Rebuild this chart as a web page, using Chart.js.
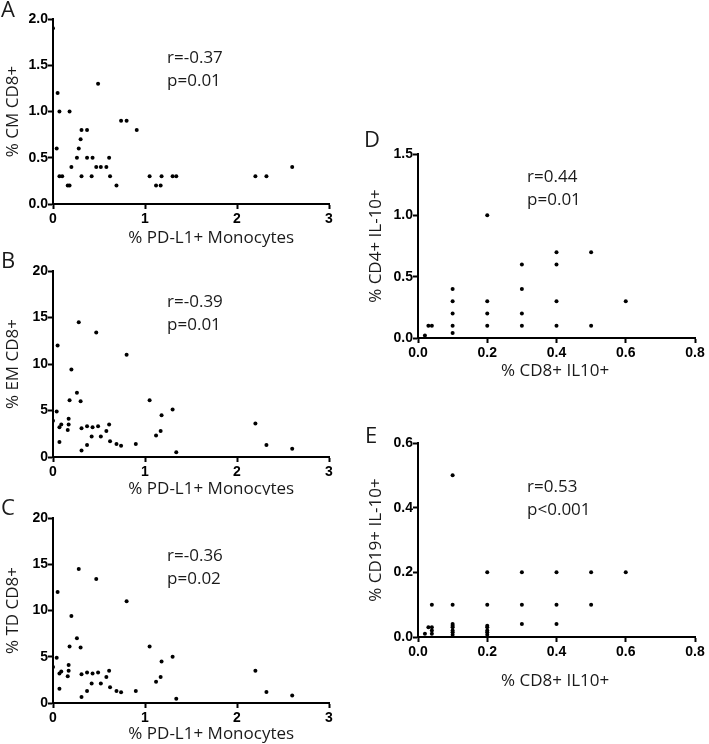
<!DOCTYPE html>
<html>
<head>
<meta charset="utf-8">
<script src="https://cdn.jsdelivr.net/npm/chart.js@4/dist/chart.umd.min.js"></script>
<style>
  body { margin: 0; background: #fff; }
  #wrap { position: relative; width: 709px; height: 744px; }
  canvas { position: absolute; }
</style>
</head>
<body>
<div id="wrap">
  <canvas id="cA" width="345" height="250" style="left:0;top:0"></canvas>
  <canvas id="cB" width="345" height="245" style="left:0;top:250px"></canvas>
  <canvas id="cC" width="345" height="249" style="left:0;top:495px"></canvas>
  <canvas id="cD" width="349" height="255" style="left:360px;top:130px"></canvas>
  <canvas id="cE" width="349" height="275" style="left:360px;top:420px"></canvas>
</div>
<script>
// % PD-L1+ monocytes vs CD8 subsets
const cmX = [0, 0.04, 0.05, 0.07, 0.07, 0.1, 0.16, 0.18, 0.18, 0.2, 0.26, 0.28, 0.3, 0.31, 0.31, 0.37, 0.37, 0.42, 0.43, 0.47, 0.49, 0.52, 0.58, 0.61, 0.62, 0.69, 0.74, 0.8, 0.91, 1.05, 1.12, 1.17, 1.18, 1.3, 1.34, 2.2, 2.32, 2.6];
const cmY = [1.9, 0.6, 1.2, 1.0, 0.3, 0.3, 0.2, 0.2, 1.0, 0.4, 0.5, 0.6, 0.7, 0.8, 0.3, 0.8, 0.5, 0.3, 0.5, 0.4, 1.3, 0.4, 0.4, 0.5, 0.3, 0.2, 0.9, 0.9, 0.8, 0.3, 0.2, 0.2, 0.3, 0.3, 0.3, 0.3, 0.3, 0.4];

const emX = [0, 0.04, 0.05, 0.07, 0.09, 0.07, 0.16, 0.17, 0.17, 0.18, 0.2, 0.26, 0.28, 0.3, 0.31, 0.31, 0.37, 0.37, 0.42, 0.43, 0.47, 0.49, 0.52, 0.58, 0.61, 0.62, 0.69, 0.74, 0.8, 0.9, 1.05, 1.12, 1.17, 1.18, 1.3, 1.34, 2.2, 2.32, 2.6];
const emY = [3.9, 4.9, 12.0, 3.2, 3.5, 1.6, 2.9, 3.5, 4.1, 6.1, 9.4, 6.9, 14.5, 6.0, 3.1, 0.7, 3.3, 1.3, 2.2, 3.2, 13.4, 3.3, 2.2, 2.8, 3.5, 1.7, 1.4, 1.2, 11.0, 1.4, 6.1, 2.3, 2.8, 4.5, 5.1, 0.5, 3.6, 1.3, 0.9];

const tdX = [0, 0.04, 0.05, 0.07, 0.09, 0.07, 0.16, 0.17, 0.17, 0.18, 0.2, 0.26, 0.28, 0.3, 0.31, 0.31, 0.37, 0.37, 0.42, 0.43, 0.47, 0.49, 0.52, 0.58, 0.61, 0.62, 0.69, 0.74, 0.8, 0.9, 1.05, 1.12, 1.17, 1.18, 1.3, 1.34, 2.2, 2.32, 2.6];
const tdY = [3.9, 4.9, 12.0, 3.2, 3.4, 1.55, 2.9, 3.5, 4.1, 6.1, 9.4, 7.0, 14.5, 6.0, 3.1, 0.65, 3.3, 1.3, 2.1, 3.2, 13.4, 3.3, 2.1, 2.8, 3.5, 1.7, 1.3, 1.15, 11.0, 1.3, 6.1, 2.3, 2.8, 4.5, 5.0, 0.45, 3.5, 1.2, 0.8];

// % CD8+ IL10+ vs CD4 / CD19
const cd4X = [0.02, 0.03, 0.04, 0.1, 0.1, 0.1, 0.1, 0.1, 0.2, 0.2, 0.2, 0.2, 0.3, 0.3, 0.3, 0.3, 0.4, 0.4, 0.4, 0.4, 0.5, 0.5, 0.6];
const cd4Y = [0.02, 0.1, 0.1, 0.04, 0.1, 0.2, 0.3, 0.4, 0.1, 0.2, 0.3, 1.0, 0.1, 0.2, 0.4, 0.6, 0.1, 0.3, 0.6, 0.7, 0.1, 0.7, 0.3];

const cd19X = [0.02, 0.03, 0.04, 0.04, 0.04, 0.04, 0.1, 0.1, 0.1, 0.1, 0.1, 0.1, 0.1, 0.1, 0.2, 0.2, 0.2, 0.2, 0.2, 0.2, 0.2, 0.3, 0.3, 0.3, 0.4, 0.4, 0.4, 0.5, 0.5, 0.6];
const cd19Y = [0.01, 0.03, 0.03, 0.02, 0.01, 0.1, 0.04, 0.035, 0.03, 0.02, 0.015, 0.007, 0.1, 0.5, 0.035, 0.03, 0.02, 0.015, 0.007, 0.1, 0.2, 0.04, 0.1, 0.2, 0.04, 0.1, 0.2, 0.1, 0.2, 0.2];

const TXT = '#1a1a1a';
const SANS = '"Open Sans", sans-serif';
const tickFont = { family: '"Liberation Sans", Arial, sans-serif', weight: 'bold', size: 14 };

function panelText(p) {
  return {
    id: 'panelText',
    afterDraw(chart) {
      const { ctx, chartArea } = chart;
      const x = chart.scales.x, y = chart.scales.y;
      ctx.save();
      ctx.fillStyle = TXT;
      ctx.textBaseline = 'middle';
      ctx.textAlign = 'left';
      ctx.font = '22px ' + SANS;
      ctx.fillText(p.letter, p.letterPos[0], p.letterPos[1]);
      ctx.font = '17px ' + SANS;
      const sx = x.getPixelForValue(p.statAt[0]);
      const sy = y.getPixelForValue(p.statAt[1]);
      p.stats.forEach((t, i) => ctx.fillText(t, sx, sy + i * 23));
      ctx.textAlign = 'center';
      ctx.fillText(p.xTitle, x.getPixelForValue(p.xTitleAt), chartArea.bottom + p.xTitleGap);
      ctx.restore();
    }
  };
}

function makePanel(id, xs, ys, p) {
  const points = xs.map((v, i) => ({ x: v, y: ys[i] }));
  const axisGrid = { display: true, drawOnChartArea: false, drawTicks: true, tickLength: 5, tickWidth: 2, tickColor: '#000', color: '#000' };
  new Chart(document.getElementById(id), {
    type: 'scatter',
    data: {
      datasets: [{
        data: points,
        backgroundColor: '#000',
        borderColor: '#000',
        pointRadius: 2,
        pointBorderWidth: 0
      }]
    },
    options: {
      responsive: false,
      animation: false,
      devicePixelRatio: 1,
      layout: { padding: { top: p.padTop, right: p.padRight, left: 0, bottom: 0 } },
      plugins: { legend: { display: false }, tooltip: { enabled: false } },
      scales: {
        x: {
          type: 'linear', min: 0, max: p.xMax,
          ticks: { stepSize: p.xStep, color: '#000', font: tickFont, padding: 2, maxRotation: 0,
                   callback: v => v.toFixed(p.xDec) },
          grid: axisGrid,
          border: { display: true, color: '#000', width: 2 },
          afterFit: s => { s.height = p.xHeight; }
        },
        y: {
          type: 'linear', min: 0, max: p.yMax,
          ticks: { stepSize: p.yStep, color: '#000', font: tickFont, padding: 0,
                   callback: v => v.toFixed(p.yDec) },
          grid: axisGrid,
          border: { display: true, color: '#000', width: 2 },
          title: { display: true, text: p.yTitle, color: TXT, font: { family: SANS, size: 17 }, padding: { top: p.yTitlePad, bottom: 0 } },
          afterFit: s => { s.width = p.yWidth; }
        }
      }
    },
    plugins: [panelText(p)]
  });
}

makePanel('cA', cmX, cmY, {
  letter: 'A', letterPos: [1, 11], stats: ['r=-0.37', 'p=0.01'], statAt: [1.24, 1.58],
  xTitle: '% PD-L1+ Monocytes', xTitleAt: 1.72, xTitleGap: 34, yTitle: '% CM CD8+', yTitlePad: 3,
  xMax: 3, xStep: 1, xDec: 0, yMax: 2, yStep: 0.5, yDec: 1,
  padTop: 19, padRight: 16, xHeight: 46, yWidth: 53
});
makePanel('cB', emX, emY, {
  letter: 'B', letterPos: [1, 12], stats: ['r=-0.39', 'p=0.01'], statAt: [1.24, 16.6],
  xTitle: '% PD-L1+ Monocytes', xTitleAt: 1.72, xTitleGap: 32, yTitle: '% EM CD8+', yTitlePad: 3,
  xMax: 3, xStep: 1, xDec: 0, yMax: 20, yStep: 5, yDec: 0,
  padTop: 21, padRight: 16, xHeight: 38, yWidth: 53
});
makePanel('cC', tdX, tdY, {
  letter: 'C', letterPos: [1, 14], stats: ['r=-0.36', 'p=0.02'], statAt: [1.24, 15.9],
  xTitle: '% PD-L1+ Monocytes', xTitleAt: 1.72, xTitleGap: 31, yTitle: '% TD CD8+', yTitlePad: 3,
  xMax: 3, xStep: 1, xDec: 0, yMax: 20, yStep: 5, yDec: 0,
  padTop: 23, padRight: 16, xHeight: 41, yWidth: 53
});
makePanel('cD', cd4X, cd4Y, {
  letter: 'D', letterPos: [4, 11], stats: ['r=0.44', 'p=0.01'], statAt: [0.315, 1.31],
  xTitle: '% CD8+ IL10+', xTitleAt: 0.396, xTitleGap: 33, yTitle: '% CD4+ IL-10+', yTitlePad: 6,
  xMax: 0.8, xStep: 0.2, xDec: 1, yMax: 1.5, yStep: 0.5, yDec: 1,
  padTop: 24, padRight: 14, xHeight: 47, yWidth: 58
});
makePanel('cE', cd19X, cd19Y, {
  letter: 'E', letterPos: [5, 17], stats: ['r=0.53', 'p<0.001'], statAt: [0.315, 0.462],
  xTitle: '% CD8+ IL10+', xTitleAt: 0.396, xTitleGap: 44, yTitle: '% CD19+ IL-10+', yTitlePad: 6,
  xMax: 0.8, xStep: 0.2, xDec: 1, yMax: 0.6, yStep: 0.2, yDec: 1,
  padTop: 23, padRight: 14, xHeight: 58, yWidth: 58
});
</script>
</body>
</html>
